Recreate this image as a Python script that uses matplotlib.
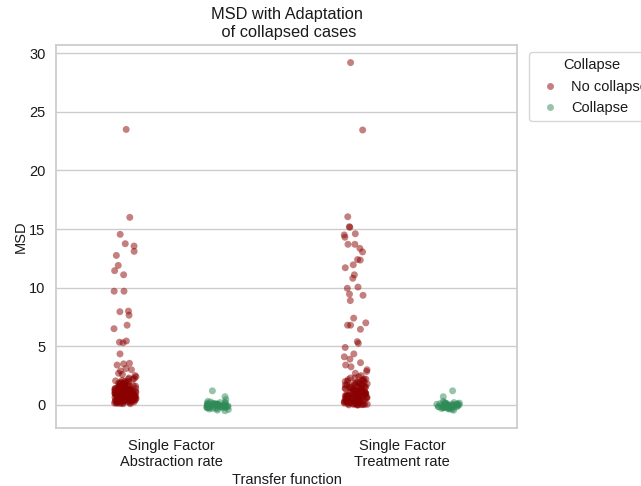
import numpy as np
import pandas as pd
import matplotlib.pyplot as plt
import seaborn as sns


FUNCTIONS = ["Single Factor\nAbstraction rate", "Single Factor\nTreatment rate"]
STATES = ["No collapse", "Collapse"]

# --------------------------------------------------
# MSD values per transfer function and collapse state
# --------------------------------------------------
red_abstraction = [
    23.5, 16.0, 14.55, 13.75, 13.55, 13.1, 12.75, 11.9, 11.45, 11.1,
    9.7, 9.7, 8.0, 7.95, 7.65, 6.8, 6.5, 5.45, 5.35, 5.3, 4.35, 3.55,
    3.5, 3.4, 3.1, 3.0,
    2.9, 2.7, 2.6, 2.5, 2.4, 2.3, 2.25, 2.2, 2.1, 2.05, 2.0, 1.95, 1.9,
    1.85, 1.8, 1.8, 1.75, 1.7, 1.7, 1.65, 1.6, 1.6, 1.55, 1.5, 1.5,
    1.45, 1.45, 1.4, 1.4, 1.35, 1.35, 1.3, 1.3, 1.25, 1.25, 1.2, 1.2,
    1.2, 1.15, 1.15, 1.1, 1.1, 1.1, 1.05, 1.05, 1.0, 1.0, 1.0, 0.95,
    0.95, 0.95, 0.9, 0.9, 0.9, 0.85, 0.85, 0.85, 0.8, 0.8, 0.8, 0.75,
    0.75, 0.75, 0.7, 0.7, 0.7, 0.65, 0.65, 0.65, 0.6, 0.6, 0.6, 0.55,
    0.55, 0.55, 0.5, 0.5, 0.5, 0.45, 0.45, 0.45, 0.4, 0.4, 0.4, 0.35,
    0.35, 0.3, 0.3, 0.3, 0.25, 0.25, 0.2, 0.2, 0.15, 0.15, 0.1,
    2.2, 2.0, 1.9, 1.75, 1.6, 1.5, 1.4, 1.3, 1.2, 1.1, 1.05, 0.95,
    0.9, 0.85, 0.8, 0.75, 0.7, 0.65, 0.6, 0.55, 0.5, 0.45, 0.4, 0.35,
    0.3, 0.25, 0.2, 0.15, 0.12, 0.1, 1.0, 0.9, 0.8, 0.7, 0.6, 0.5,
    0.4, 0.3, 1.2, 1.4, 1.6, 1.8,
]
red_treatment = [
    29.2, 23.45, 16.05, 15.2, 15.15, 14.6, 14.5, 14.3, 13.7, 13.7,
    13.35, 13.05, 12.4, 12.35, 11.95, 11.7, 11.1, 10.8, 10.05, 9.95,
    9.45, 9.35, 8.9, 7.4, 7.0, 6.8, 6.8, 6.45, 5.4, 5.25, 4.9, 4.35,
    4.1, 3.9, 3.6, 3.4, 3.25, 3.0, 2.85, 2.7, 2.5,
    2.4, 2.3, 2.2, 2.15, 2.1, 2.0, 1.95, 1.9, 1.85, 1.8, 1.75, 1.7,
    1.7, 1.65, 1.6, 1.55, 1.5, 1.5, 1.45, 1.4, 1.4, 1.35, 1.3, 1.3,
    1.25, 1.2, 1.2, 1.15, 1.1, 1.1, 1.05, 1.0, 1.0, 0.95, 0.95, 0.9,
    0.9, 0.85, 0.85, 0.8, 0.8, 0.75, 0.75, 0.7, 0.7, 0.65, 0.65, 0.6,
    0.6, 0.55, 0.55, 0.5, 0.5, 0.45, 0.45, 0.4, 0.4, 0.35, 0.35, 0.3,
    0.3, 0.25, 0.25, 0.2, 0.2, 0.15, 0.15, 0.1, 0.1, 0.05, 0.05, 0.02,
    0.0, 0.0,
    2.3, 2.2, 2.1, 2.0, 1.9, 1.8, 1.7, 1.6, 1.5, 1.4, 1.3, 1.2, 1.1,
    1.0, 0.95, 0.9, 0.85, 0.8, 0.75, 0.7, 0.65, 0.6, 0.55, 0.5, 0.45,
    0.4, 0.35, 0.3, 0.25, 0.2, 0.15, 0.1, 0.05, 0.02, 0.0, 0.0, 1.0,
    0.9, 0.8, 0.7, 0.6, 0.5, 0.4, 0.3, 0.2, 0.1, 1.5, 1.9,
]
green_abstraction = [
    1.2, 0.7, 0.45, 0.3, 0.25, 0.2, 0.15, 0.1, 0.1, 0.05, 0.05, 0.0,
    0.0, 0.0, -0.05, -0.05, -0.1, -0.1, -0.1, -0.15, -0.15, -0.2, -0.2,
    -0.25, -0.25, -0.3, -0.3, -0.35, -0.4, -0.45, -0.5, 0.0, -0.05,
    0.05, -0.15, 0.1, -0.2, 0.15, 0.0, -0.1, -0.2, -0.3, 0.05, -0.05,
    0.2, 0.1, -0.15, -0.25,
]
green_treatment = [
    1.2, 0.7, 0.3, 0.2, 0.15, 0.1, 0.1, 0.05, 0.05, 0.0, 0.0, 0.0,
    -0.05, -0.05, -0.1, -0.1, -0.1, -0.15, -0.15, -0.2, -0.2, -0.25,
    -0.25, -0.3, -0.3, -0.35, -0.4, -0.45, 0.0, -0.05, 0.05, -0.15,
    0.1, -0.2, 0.15, 0.0, -0.1, -0.2, -0.3, 0.05, -0.05, 0.2, 0.1,
    -0.15, -0.25,
]


def build_frame():
    groups = [
        (FUNCTIONS[0], STATES[0], red_abstraction),
        (FUNCTIONS[0], STATES[1], green_abstraction),
        (FUNCTIONS[1], STATES[0], red_treatment),
        (FUNCTIONS[1], STATES[1], green_treatment),
    ]
    rows = []
    for func, state, vals in groups:
        for v in vals:
            rows.append({"Transfer function": func, "Collapse": state, "MSD": v})
    return pd.DataFrame(rows)


def main():
    df = build_frame()

    sns.set_theme(style="whitegrid")
    plt.rcParams.update({
        "font.family": ["Liberation Sans", "DejaVu Sans"],
        "text.color": "0.1",
        "axes.labelcolor": "0.1",
        "xtick.color": "0.1",
        "ytick.color": "0.1",
        "xtick.labelsize": 10.5,
        "ytick.labelsize": 10.5,
        "xtick.major.pad": 1.5,
        "ytick.major.pad": 1.5,
        "axes.labelsize": 10.5,
        "legend.fontsize": 10.5,
        "legend.title_fontsize": 10.5,
    })
    np.random.seed(3)

    fig = plt.figure(figsize=(6.41, 4.86), dpi=100)
    ax = fig.add_axes([0.087, 0.119, 0.72, 0.788])

    sns.stripplot(
        data=df, x="Transfer function", y="MSD", hue="Collapse",
        order=FUNCTIONS, hue_order=STATES,
        palette=["#8B0000", "#2E8B57"], dodge=True, jitter=True,
        alpha=0.5, size=5, linewidth=0, ax=ax,
    )

    ax.set_title("MSD with Adaptation\n of collapsed cases", fontsize=11.8)
    ax.set_yticks([0, 5, 10, 15, 20, 25, 30])
    ax.set_xlabel("Transfer function", labelpad=3)
    ax.set_ylabel("MSD", labelpad=1)
    ax.legend(title="Collapse", bbox_to_anchor=(1.01, 1), loc="upper left",
              handletextpad=0.5)

    fig.savefig("out.png", dpi=100)


if __name__ == "__main__":
    main()
